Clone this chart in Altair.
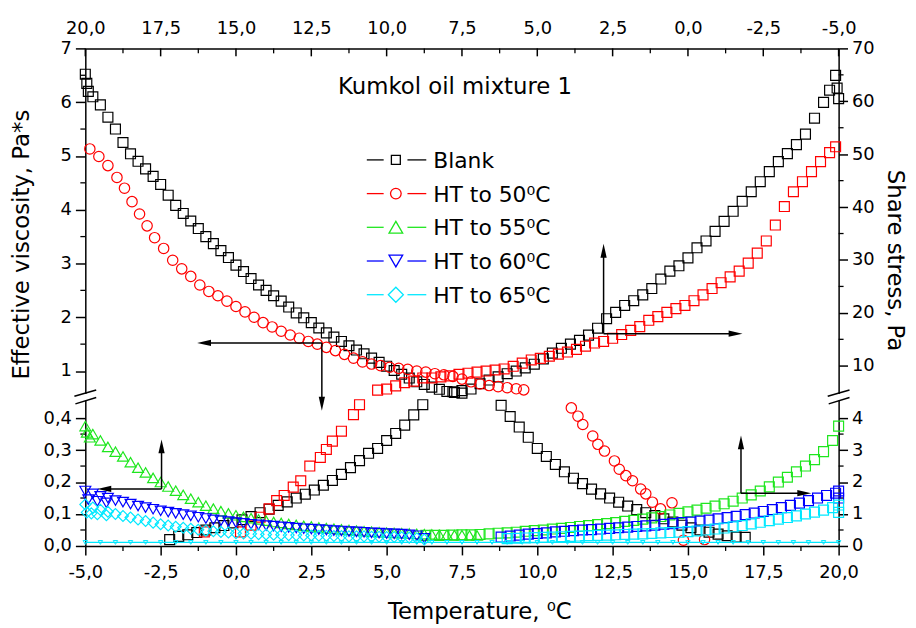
import altair as alt
import pandas as pd

# ---------------- values ----------------
# upper part of the broken axes -------------------------------------------
# Blank, effective viscosity (Pa*s) vs bottom temperature
BLANK_VISC_T = [-5.0, -4.95, -4.9, -4.75, -4.5, -4.25, -4.0, -3.75, -3.5, -3.25, -3.0, -2.75, -2.5,
                -2.25, -2.0, -1.75, -1.5, -1.25, -1.0, -0.75, -0.5, -0.25, 0.0, 0.25, 0.5, 0.75, 1.0,
                1.25, 1.5, 1.75, 2.0, 2.25, 2.5, 2.75, 3.0, 3.25, 3.5, 3.75, 4.0, 4.25, 4.5, 4.75, 5.0,
                5.25, 5.5, 5.75, 6.0, 6.25, 6.5, 6.75, 7.0, 7.25, 7.5]
BLANK_VISC = [6.52, 6.35, 6.2, 6.1, 5.95, 5.72, 5.5, 5.25, 5.04, 4.9, 4.76, 4.62, 4.47,
              4.27, 4.08, 3.93, 3.79, 3.65, 3.5, 3.37, 3.24, 3.11, 2.97, 2.85, 2.72, 2.6, 2.5,
              2.4, 2.3, 2.19, 2.08, 1.99, 1.9, 1.8, 1.71, 1.63, 1.55, 1.47, 1.39, 1.32, 1.24, 1.16, 1.09,
              1.01, 0.94, 0.87, 0.8, 0.75, 0.7, 0.66, 0.62, 0.6, 0.59]
# HT to 50 C, effective viscosity vs bottom temperature
HT50_VISC_T = [-4.85, -4.55, -4.25, -3.95, -3.7, -3.45, -3.2, -2.95, -2.7, -2.4,
               -2.1, -1.8, -1.5, -1.2, -0.9, -0.6, -0.3, 0.0, 0.3, 0.6,
               0.9, 1.2, 1.5, 1.8, 2.1, 2.4, 2.7, 3.0, 3.3, 3.6,
               3.9, 4.2, 4.5, 4.8, 5.1, 5.4, 5.7, 6.0, 6.3, 6.6,
               6.9, 7.2, 7.5, 7.8, 8.1, 8.4, 8.7, 9.0, 9.3, 9.55]
HT50_VISC = [5.13, 4.99, 4.82, 4.6, 4.4, 4.15, 3.92, 3.7, 3.48, 3.28,
             3.06, 2.9, 2.76, 2.6, 2.48, 2.4, 2.3, 2.2, 2.1, 2.0,
             1.9, 1.82, 1.74, 1.67, 1.61, 1.55, 1.5, 1.44, 1.38, 1.31,
             1.24, 1.17, 1.13, 1.1, 1.07, 1.05, 1.03, 1.0, 0.98, 0.95,
             0.93, 0.9, 0.85, 0.8, 0.76, 0.73, 0.71, 0.69, 0.67, 0.65]
# Blank, share stress (Pa) vs top temperature
BLANK_STRESS_T = [7.8, 7.5, 7.2, 6.9, 6.6, 6.3, 6.0, 5.7, 5.4, 5.1,
                  4.8, 4.5, 4.2, 3.9, 3.6, 3.3, 3.0, 2.7, 2.4, 2.1,
                  1.8, 1.5, 1.2, 0.9, 0.6, 0.3, 0.0, -0.3, -0.6, -0.9,
                  -1.2, -1.5, -1.8, -2.1, -2.4, -2.7, -3.0, -3.3, -3.6, -3.9,
                  -4.2, -4.5, -4.7, -4.9, -4.95, -5.0]
BLANK_STRESS = [5.1, 5.3, 5.6, 6.6, 7.3, 7.9, 8.5, 9.0, 9.6, 10.3,
                11.3, 12.4, 13.3, 14.1, 14.8, 15.8, 17.1, 18.9, 20.1, 21.4,
                22.3, 23.4, 24.6, 26.4, 27.9, 28.9, 30.4, 32.3, 33.6, 35.4,
                37.3, 39.2, 41.1, 42.9, 44.8, 46.7, 48.6, 50.1, 51.8, 53.8,
                56.8, 59.8, 62.1, 64.9, 62.5, 60.5]
# HT to 50 C, share stress vs top temperature
HT50_STRESS_T = [10.3, 10.0, 9.7, 9.4, 9.1, 8.8, 8.5, 8.2, 7.9, 7.6,
                 7.3, 7.0, 6.7, 6.4, 6.1, 5.8, 5.5, 5.2, 4.9, 4.6,
                 4.3, 4.0, 3.7, 3.4, 3.1, 2.8, 2.5, 2.2, 1.9, 1.6,
                 1.3, 1.0, 0.7, 0.4, 0.1, -0.2, -0.5, -0.8, -1.1, -1.4,
                 -1.7, -2.0, -2.3, -2.6, -2.9, -3.2, -3.5, -3.8, -4.1, -4.4,
                 -4.7, -4.9]
HT50_STRESS = [5.4, 5.6, 6.2, 6.8, 7.1, 7.7, 7.7, 7.9, 8.1, 8.4,
               8.6, 8.8, 9.0, 9.2, 9.4, 9.9, 10.5, 11.1, 11.4, 11.8,
               12.2, 12.6, 13.1, 13.7, 14.3, 14.6, 15.2, 15.9, 16.7, 17.4,
               18.6, 19.3, 20.1, 20.8, 21.4, 22.3, 23.4, 24.6, 25.7, 26.8,
               27.9, 29.4, 31.3, 33.6, 36.6, 40.1, 42.9, 44.8, 46.7, 48.6,
               50.3, 51.4]

# lower part of the broken axes -------------------------------------------
BLANK_LOW_A_T = [17.2, 16.9, 16.6, 16.3, 16.0, 15.7, 15.4, 15.1, 14.8, 14.5,
                 14.2, 13.9, 13.6, 13.3, 13.0, 12.7, 12.4, 12.1, 11.8, 11.5,
                 11.2, 10.9, 10.6, 10.3, 10.0, 9.7, 9.4, 9.1, 8.8]
BLANK_LOW_A = [0.2, 0.3, 0.35, 0.42, 0.5, 0.57, 0.64, 0.72, 0.82, 0.92,
               1.04, 1.15, 1.27, 1.38, 1.5, 1.62, 1.75, 1.9, 2.05, 2.24,
               2.45, 2.67, 2.9, 3.05, 3.3, 3.52, 3.78, 4.1, 4.42]
BLANK_LOW_B_T = [6.2, 5.9, 5.6, 5.3, 5.0, 4.7, 4.4, 4.1, 3.8, 3.5,
                 3.2, 2.9, 2.6, 2.3, 2.0, 1.7, 1.4, 1.1, 0.8, 0.5,
                 0.2, -0.1, -0.4, -0.7, -1.0, -1.3, -1.6, -1.9]
BLANK_LOW_B = [4.4, 4.05, 3.72, 3.4, 3.05, 2.8, 2.55, 2.32, 2.12, 1.95,
               1.78, 1.63, 1.5, 1.37, 1.25, 1.14, 1.04, 0.95, 0.85, 0.75,
               0.65, 0.57, 0.5, 0.43, 0.37, 0.32, 0.28, 0.27]
HT50_LOW_SQ_T = [16.05, 14.85, 14.5, 14.2, 13.9, 13.65, 13.4, 13.1, 12.85, 12.55,
                 12.2, 12.0, 11.8, 11.5, 11.1, 10.9]
HT50_LOW_SQ = [0.44, 0.44, 0.65, 0.9, 1.16, 1.42, 1.58, 1.84, 2.04, 2.5,
               2.77, 3.02, 3.28, 3.59, 4.11, 4.42]
HT50_LOW_CI_T = [11.13, 11.35, 11.51, 11.84, 12.01, 12.23, 12.56, 12.72, 12.94, 13.16,
                 13.43, 13.6, 13.82, 14.09, 14.47, 14.85, 15.55]
HT50_LOW_CI = [0.432, 0.406, 0.38, 0.344, 0.318, 0.297, 0.266, 0.24, 0.22, 0.204,
               0.178, 0.163, 0.137, 0.116, 0.135, 0.018, 0.02]
HT55_VISC_T = [-5.0, -4.95, -4.85, -4.75, -4.5, -4.25, -4.0, -3.75, -3.5, -3.25,
               -3.0, -2.75, -2.5, -2.25, -2.0, -1.75, -1.5, -1.25, -1.0, -0.75,
               -0.5, -0.25, 0.0, 0.25, 0.5, 0.75, 1.0, 1.25, 1.5, 1.75,
               2.0, 2.25, 2.5, 2.75, 3.0, 3.25, 3.5, 3.75, 4.0, 4.25,
               4.5, 4.75, 5.0, 5.25, 5.5, 5.75, 6.0, 6.25, 6.5, 6.75,
               7.0, 7.25, 7.5, 7.75, 8.0]
HT55_VISC = [0.375, 0.355, 0.34, 0.35, 0.33, 0.31, 0.295, 0.28, 0.262, 0.245,
             0.23, 0.213, 0.2, 0.186, 0.173, 0.16, 0.148, 0.137, 0.126, 0.117,
             0.109, 0.102, 0.096, 0.091, 0.087, 0.083, 0.079, 0.075, 0.072, 0.069,
             0.066, 0.063, 0.061, 0.058, 0.056, 0.054, 0.052, 0.05, 0.048, 0.046,
             0.045, 0.043, 0.042, 0.041, 0.04, 0.039, 0.038, 0.037, 0.036, 0.035,
             0.035, 0.034, 0.034, 0.033, 0.033]
HT55_STRESS_T = [8.7, 8.4, 8.1, 7.8, 7.5, 7.2, 6.9, 6.6, 6.3, 6.0,
                 5.7, 5.4, 5.1, 4.8, 4.5, 4.2, 3.9, 3.6, 3.3, 3.0,
                 2.7, 2.4, 2.1, 1.8, 1.5, 1.2, 0.9, 0.6, 0.3, 0.0,
                 -0.3, -0.6, -0.9, -1.2, -1.5, -1.8, -2.1, -2.4, -2.7, -3.0,
                 -3.3, -3.6, -3.9, -4.2, -4.5, -4.8, -5.0]
HT55_STRESS = [0.33, 0.33, 0.33, 0.34, 0.35, 0.35, 0.36, 0.38, 0.4, 0.41,
               0.43, 0.46, 0.48, 0.5, 0.53, 0.55, 0.58, 0.61, 0.64, 0.67,
               0.7, 0.73, 0.77, 0.8, 0.84, 0.88, 0.92, 0.97, 1.02, 1.07,
               1.12, 1.18, 1.25, 1.32, 1.4, 1.5, 1.6, 1.72, 1.85, 2.0,
               2.15, 2.32, 2.5, 2.7, 2.95, 3.3, 3.75]
HT60_VISC_T = [-5.0, -4.9, -4.75, -4.6, -4.5, -4.3, -4.25,
               -4.0, -3.75, -3.5, -3.25, -3.0, -2.75, -2.5, -2.25, -2.0, -1.75,
               -1.5, -1.25, -1.0, -0.75, -0.5, -0.25, 0.0, 0.25, 0.5, 0.75,
               1.0, 1.25, 1.5, 1.75, 2.0, 2.25, 2.5, 2.75, 3.0, 3.25,
               3.5, 3.75, 4.0, 4.25, 4.5, 4.75, 5.0, 5.25, 5.5, 5.75,
               6.0, 6.25]
HT60_VISC = [0.172, 0.145, 0.163, 0.14, 0.155, 0.135, 0.15,
             0.142, 0.137, 0.131, 0.125, 0.12, 0.115, 0.11, 0.106, 0.102, 0.098,
             0.094, 0.09, 0.086, 0.082, 0.079, 0.076, 0.073, 0.071, 0.068, 0.066,
             0.064, 0.062, 0.06, 0.058, 0.056, 0.054, 0.053, 0.051, 0.05, 0.048,
             0.047, 0.045, 0.044, 0.043, 0.041, 0.04, 0.039, 0.038, 0.037, 0.035,
             0.032, 0.024]
HT60_STRESS_T = [6.2, 5.9, 5.6, 5.3, 5.0, 4.7, 4.4, 4.1, 3.8, 3.5,
                 3.2, 2.9, 2.6, 2.3, 2.0, 1.7, 1.4, 1.1, 0.8, 0.5,
                 0.2, -0.1, -0.4, -0.7, -1.0, -1.3, -1.6, -1.9, -2.2, -2.5,
                 -2.8, -3.1, -3.4, -3.7, -4.0, -4.3, -4.6, -4.9, -5.0, -5.0]
HT60_STRESS = [0.28, 0.31, 0.34, 0.37, 0.39, 0.41, 0.44, 0.46, 0.48, 0.5,
               0.51, 0.53, 0.55, 0.57, 0.59, 0.61, 0.63, 0.65, 0.68, 0.7,
               0.73, 0.75, 0.78, 0.81, 0.85, 0.89, 0.93, 0.98, 1.03, 1.08,
               1.14, 1.2, 1.27, 1.34, 1.42, 1.5, 1.58, 1.65, 1.5, 1.72]
HT65_VISC_T = [-5.0, -4.95, -4.8, -4.75, -4.6, -4.5, -4.3, -4.25,
               -4.0, -3.75, -3.5, -3.25, -3.0, -2.75, -2.5, -2.25, -2.0, -1.75,
               -1.5, -1.25, -1.0, -0.75, -0.5, -0.25, 0.0, 0.25, 0.5, 0.75,
               1.0, 1.25, 1.5, 1.75, 2.0, 2.25, 2.5, 2.75, 3.0, 3.25,
               3.5, 3.75, 4.0, 4.25, 4.5, 4.75, 5.0, 5.25, 5.5, 5.75,
               6.0, 6.25]
HT65_VISC = [0.13, 0.105, 0.102, 0.12, 0.099, 0.113, 0.096, 0.107,
             0.1, 0.094, 0.089, 0.083, 0.078, 0.073, 0.068, 0.064, 0.06, 0.057,
             0.054, 0.051, 0.048, 0.046, 0.044, 0.042, 0.04, 0.039, 0.038, 0.037,
             0.036, 0.035, 0.035, 0.034, 0.034, 0.033, 0.033, 0.032, 0.032, 0.031,
             0.031, 0.03, 0.03, 0.03, 0.029, 0.029, 0.028, 0.028, 0.027, 0.026,
             0.024, 0.02]
HT65_STRESS_T = [6.0, 5.7, 5.4, 5.1, 4.8, 4.5, 4.2, 3.9, 3.6, 3.3,
                 3.0, 2.7, 2.4, 2.1, 1.8, 1.5, 1.2, 0.9, 0.6, 0.3,
                 0.0, -0.3, -0.6, -0.9, -1.2, -1.5, -1.8, -2.1, -2.4, -2.7,
                 -3.0, -3.3, -3.6, -3.9, -4.2, -4.5, -4.8, -5.0, -5.0]
HT65_STRESS = [0.23, 0.24, 0.25, 0.26, 0.27, 0.28, 0.29, 0.3, 0.31, 0.32,
               0.33, 0.34, 0.35, 0.36, 0.37, 0.38, 0.39, 0.41, 0.42, 0.43,
               0.45, 0.47, 0.5, 0.53, 0.56, 0.6, 0.64, 0.69, 0.74, 0.79,
               0.84, 0.89, 0.94, 1.0, 1.06, 1.12, 1.2, 1.28, 1.05]
# near-zero row along the bottom axis
BASE_T = [-5.0, -4.5, -4.0, -3.5, -3.0, -2.5, -2.0, -1.5, -1.0, -0.5,
          0.0, 0.5, 1.0, 1.5, 2.0, 2.5, 3.0, 3.5, 4.0, 4.5,
          5.0, 5.5, 6.0, 6.5, 7.0, 7.5, 8.0, 8.5, 9.0, 9.5,
          10.0, 10.5, 11.0, 11.5, 12.0, 12.5, 13.0, 13.5, 14.0, 14.5,
          15.0, 15.5, 16.0, 16.5, 17.0, 17.5, 18.0, 18.5, 19.0, 19.5, 20.0]
BASE_V = [0.011, 0.011, 0.011, 0.011, 0.011, 0.011, 0.011, 0.011, 0.011, 0.011,
          0.011, 0.011, 0.011, 0.011, 0.011, 0.011, 0.011, 0.011, 0.011, 0.011,
          0.011, 0.011, 0.011, 0.011, 0.011, 0.011, 0.011, 0.011, 0.011, 0.011,
          0.011, 0.011, 0.011, 0.011, 0.011, 0.011, 0.011, 0.011, 0.011, 0.011,
          0.011, 0.011, 0.011, 0.011, 0.011, 0.011, 0.011, 0.011, 0.011, 0.011, 0.011]

# tick values
X_MAJOR = [-5, -2.5, 0, 2.5, 5, 7.5, 10, 12.5, 15, 17.5, 20]
X_MINOR = [-3.75, -1.25, 1.25, 3.75, 6.25, 8.75, 11.25, 13.75, 16.25, 18.75]
L_LOW_MAJOR = [0.0, 0.1, 0.2, 0.3, 0.4]
L_LOW_MINOR = [0.05, 0.15, 0.25, 0.35]
L_UP_MAJOR = [1, 2, 3, 4, 5, 6, 7]
L_UP_MINOR = [1.5, 2.5, 3.5, 4.5, 5.5, 6.5]
R_LOW_MAJOR = [0, 1, 2, 3, 4]
R_LOW_MINOR = [0.5, 1.5, 2.5, 3.5]
R_UP_MAJOR = [10, 20, 30, 40, 50, 60, 70]
R_UP_MINOR = [15, 25, 35, 45, 55, 65]

# arrows: corner and the two tips (bottom temperature, px height)
ARROWS = [
    ((2.85, 204.8), (-1.29, 204.8), (2.85, 136.5)),
    ((12.2, 214.2), (12.2, 304.8), (16.81, 214.2)),
    ((-2.47, 57.5), (-2.47, 107.5), (-4.6, 57.5)),
    ((16.76, 53.2), (16.76, 111.5), (19.09, 53.2)),
]

LEG_LABELS = ["Blank", "HT to 50\u2070C", "HT to 55\u2070C", "HT to 60\u2070C", "HT to 65\u2070C"]

RED, GREEN, BLUE, CYAN = "#ff0000", "#1ee61e", "#0000ff", "#00e8ff"
LEG_COLORS = ["#000000", RED, GREEN, BLUE, CYAN]
LEG_SHAPES = ["square", "circle", "triangle-up", "triangle-down", "diamond"]
LEG_SIZES = [81, 115, 190, 190, 230]

FONT = "DejaVu Sans"

# ---------------- broken-axis geometry ----------------
W, H = 760, 502
PXDEG = W / 25.0
L_LOW = 322.5               # px per Pa*s below the break
L_UP0, L_UPK = 176.5, 54.25  # 1 Pa*s at 176.5 px, 54.25 px per Pa*s
R_LOW = 32.25               # px per Pa below the break
R_UP0 = 181.8               # 10 Pa at 181.8 px
R_UPK = (H - R_UP0) / 60.0


def h_left(v, part):
    return v * L_LOW if part == "low" else L_UP0 + (v - 1) * L_UPK


def h_right(s, part):
    return s * R_LOW if part == "low" else R_UP0 + (s - 10) * R_UPK


def frame(T, vals, side, part, top):
    tb = [15 - t for t in T] if top else list(T)
    f = h_left if side == "left" else h_right
    return pd.DataFrame({"T": tb, "h": [f(v, part) for v in vals]})


XS = alt.Scale(domain=[-5, 20], nice=False, zero=False)
YS = alt.Scale(domain=[0, H], nice=False, zero=False)


def X(f):
    return alt.X(f + ":Q", scale=XS, axis=None)


def Y(f):
    return alt.Y(f + ":Q", scale=YS, axis=None)


def points(df, color, shape, size, sw=1.2):
    return alt.Chart(df).mark_point(shape=shape, size=size, filled=False, color=color,
                                    strokeWidth=sw, opacity=1).encode(x=X("T"), y=Y("h"))


layers = []

# ---- axes (carriers) ----
carrier = pd.DataFrame({"T": [-5.0], "h": [0.0]})
lvals = [h_left(v, "low") for v in L_LOW_MAJOR] + [h_left(v, "up") for v in L_UP_MAJOR]
rvals = [h_right(v, "low") for v in R_LOW_MAJOR] + [h_right(v, "up") for v in R_UP_MAJOR]
left_expr = (f"datum.value < 150 ? replace(format(datum.value / {L_LOW}, '.1f'), '.', ',') : "
             f"format(1 + (datum.value - {L_UP0}) / {L_UPK}, '.0f')")
right_expr = (f"datum.value < 150 ? format(datum.value / {R_LOW}, '.0f') : "
              f"format(10 + (datum.value - {R_UP0}) / {R_UPK}, '.0f')")
bottom_expr = "(datum.value < 0 ? '-' : '') + replace(format(abs(datum.value), '.1f'), '.', ',')"
top_expr = "(15 - datum.value < 0 ? '-' : '') + replace(format(abs(15 - datum.value), '.1f'), '.', ',')"

common = dict(title=None, grid=False, labelFont=FONT, labelFontSize=18, labelColor="black",
              domainColor="black", domainWidth=1.5, tickColor="black", tickWidth=1.5,
              labelFlush=False, labelOverlap=False)

ax_lb = alt.Chart(carrier).mark_point(opacity=0).encode(
    x=alt.X("T:Q", scale=XS, axis=alt.Axis(orient="bottom", values=X_MAJOR, labelExpr=bottom_expr,
                                          tickSize=9, labelPadding=9, labelAngle=0, **common)),
    y=alt.Y("h:Q", scale=YS, axis=alt.Axis(orient="left", values=lvals, labelExpr=left_expr,
                                          tickSize=10, labelPadding=4, **common)),
)
ax_rt = alt.Chart(carrier).mark_point(opacity=0).encode(
    x=alt.X("T:Q", scale=XS, axis=alt.Axis(orient="top", values=X_MAJOR, labelExpr=top_expr,
                                          tickSize=0, labelPadding=11, labelAngle=0, **common)),
    y=alt.Y("h:Q", scale=YS, axis=alt.Axis(orient="right", values=rvals, labelExpr=right_expr,
                                          tickSize=9, labelPadding=4, **common)),
)
layers += [ax_lb, ax_rt]

# ---- minor / inward ticks ----
lmin = pd.DataFrame({"h": [h_left(v, "low") for v in L_LOW_MINOR] + [h_left(v, "up") for v in L_UP_MINOR]})
rmin = pd.DataFrame({"h": [h_right(v, "low") for v in R_LOW_MINOR] + [h_right(v, "up") for v in R_UP_MINOR]})
xmin_df = pd.DataFrame({"T": X_MINOR})
xmaj_df = pd.DataFrame({"T": X_MAJOR})
tick = dict(color="black", strokeWidth=1.3)
layers.append(alt.Chart(lmin).mark_rule(**tick).encode(y=Y("h"), x=alt.value(-5), x2=alt.value(0)))
layers.append(alt.Chart(rmin).mark_rule(**tick).encode(y=Y("h"), x=alt.value(W), x2=alt.value(W + 5)))
layers.append(alt.Chart(xmin_df).mark_rule(**tick).encode(x=X("T"), y=alt.value(H), y2=alt.value(H + 5)))
layers.append(alt.Chart(xmin_df).mark_rule(**tick).encode(x=X("T"), y=alt.value(0), y2=alt.value(5)))
layers.append(alt.Chart(xmaj_df).mark_rule(color="black", strokeWidth=1.5).encode(
    x=X("T"), y=alt.value(0), y2=alt.value(8)))

# ---- data series ----
SERIES = [
    (BLANK_VISC_T, BLANK_VISC, "left", "up", False, "#000000", "square", 100),
    (BLANK_STRESS_T, BLANK_STRESS, "right", "up", True, "#000000", "square", 100),
    (BLANK_LOW_A_T, BLANK_LOW_A, "right", "low", True, "#000000", "square", 100),
    (BLANK_LOW_B_T, BLANK_LOW_B, "right", "low", True, "#000000", "square", 100),
    (HT50_VISC_T, HT50_VISC, "left", "up", False, RED, "circle", 110),
    (HT50_STRESS_T, HT50_STRESS, "right", "up", True, RED, "square", 100),
    (HT50_LOW_SQ_T, HT50_LOW_SQ, "right", "low", True, RED, "square", 100),
    (HT50_LOW_CI_T, HT50_LOW_CI, "left", "low", False, RED, "circle", 110),
    (HT55_VISC_T, HT55_VISC, "left", "low", False, GREEN, "triangle-up", 121),
    (HT55_STRESS_T, HT55_STRESS, "right", "low", True, GREEN, "square", 100),
    (HT60_VISC_T, HT60_VISC, "left", "low", False, BLUE, "triangle-down", 121),
    (HT60_STRESS_T, HT60_STRESS, "right", "low", True, BLUE, "square", 100),
    (HT65_VISC_T, HT65_VISC, "left", "low", False, CYAN, "diamond", 121),
    (HT65_STRESS_T, HT65_STRESS, "right", "low", True, CYAN, "square", 100),
]
for T, vals, side, part, top, col, shp, sz in SERIES:
    layers.append(points(frame(T, vals, side, part, top), col, shp, sz))

base = frame(BASE_T, BASE_V, "left", "low", False)
layers.append(alt.Chart(base).mark_line(color=CYAN, strokeWidth=1.3).encode(x=X("T"), y=Y("h")))
layers.append(points(base, CYAN, "triangle-down", 20, 1.0))

# ---- axis breaks ----
for x0 in (0, W):
    layers.append(alt.Chart(carrier).mark_rect(color="white").encode(
        x=alt.value(x0 - 3), x2=alt.value(x0 + 3), y=alt.value(348.6), y2=alt.value(355.2)))
    layers.append(alt.Chart(carrier).mark_rule(color="black", strokeWidth=1.5).encode(
        x=alt.value(x0 - 11), x2=alt.value(x0 + 11), y=alt.value(351.0), y2=alt.value(344.6)))
    layers.append(alt.Chart(carrier).mark_rule(color="black", strokeWidth=1.5).encode(
        x=alt.value(x0 - 10), x2=alt.value(x0 + 11), y=alt.value(358.6), y2=alt.value(352.2)))

# ---- arrows ----
seg_rows, head_rows = [], []
HEAD = 7.0
for corner, t1, t2 in ARROWS:
    for tip in (t1, t2):
        dT, dh = tip[0] - corner[0], tip[1] - corner[1]
        if abs(dT) > 0:
            c = (tip[0] - HEAD / PXDEG * (1 if dT > 0 else -1), tip[1])
            ang = 90 if dT > 0 else 270
        else:
            c = (tip[0], tip[1] - HEAD * (1 if dh > 0 else -1))
            ang = 0 if dh > 0 else 180
        seg_rows.append({"T1": corner[0], "h1": corner[1], "T2": c[0], "h2": c[1]})
        head_rows.append({"T": c[0], "h": c[1], "ang": ang})
layers.append(alt.Chart(pd.DataFrame(seg_rows)).mark_rule(color="black", strokeWidth=1.5).encode(
    x=X("T1"), y=Y("h1"), x2=alt.X2("T2:Q"), y2=alt.Y2("h2:Q")))
layers.append(alt.Chart(pd.DataFrame(head_rows)).mark_point(
    shape="M0,-1L-0.45,1L0.45,1Z", size=196, filled=True, color="black", opacity=1).encode(
    x=X("T"), y=Y("h"), angle=alt.Angle("ang:Q", scale=None)))

# ---- legend ----
leg = pd.DataFrame({
    "label": LEG_LABELS, "col": LEG_COLORS, "shp": LEG_SHAPES, "sz": LEG_SIZES,
    "h": [389.5 - 34 * i for i in range(5)],
})
leg["ht"] = leg["h"] - 8
for xa, xb in ((284, 301), (325, 344)):
    layers.append(alt.Chart(leg).mark_rule(strokeWidth=1.3).encode(
        y=Y("h"), x=alt.value(xa), x2=alt.value(xb), color=alt.Color("col:N", scale=None)))
layers.append(alt.Chart(leg).mark_point(filled=False, strokeWidth=1.3, opacity=1).encode(
    x=alt.value(313.3), y=Y("h"), color=alt.Color("col:N", scale=None),
    shape=alt.Shape("shp:N", scale=None), size=alt.Size("sz:Q", scale=None)))
layers.append(alt.Chart(leg).mark_text(align="left", baseline="alphabetic", font=FONT,
                                       fontSize=22, color="black").encode(
    x=alt.value(351), y=Y("ht"), text="label:N"))

# ---- titles ----
def label(text, x, y, angle=0, size=23):
    return alt.Chart(carrier).mark_text(text=text, font=FONT, fontSize=size, color="black",
                                        align="center", baseline="alphabetic", angle=angle).encode(
        x=alt.value(x), y=alt.value(y))


layers.append(label("Kumkol oil mixture 1", 373, 45.7))
layers.append(label("Effective viscosity, Pa*s", -57, 198, angle=270))
layers.append(label("Share stress, Pa", 810, 214, angle=90))
layers.append(label("Temperature, \u2070C", 398, 576))

chart = alt.layer(*layers).resolve_axis(x="independent", y="independent").properties(
    width=W, height=H,
    padding={"left": 78, "top": 38, "right": 70, "bottom": 80},
    autosize=alt.AutoSizeParams(type="none"),
).configure_view(stroke=None)

chart.save("out.html", embed_options={"renderer": "svg", "actions": False})
